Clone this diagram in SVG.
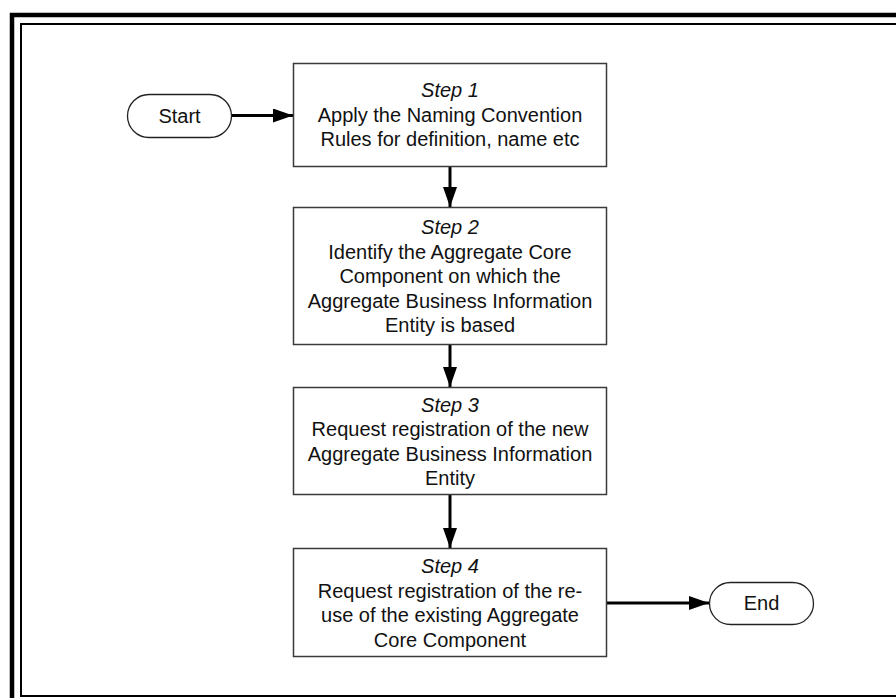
<svg xmlns="http://www.w3.org/2000/svg" width="896" height="698" viewBox="0 0 896 698">
  <style>
    .frame-outer { fill: none; stroke: #000; stroke-width: 4.5; }
    .frame-inner { fill: none; stroke: #000; stroke-width: 2; }
    .box { fill: #fff; stroke: #3a3a3a; stroke-width: 1.5; }
    .term { fill: #fff; stroke: #222; stroke-width: 1.3; }
    .label { font-family: "Liberation Sans", Arial, sans-serif; font-size: 20px; fill: #111; text-anchor: middle; }
    .step { font-style: italic; }
    .flow { fill: none; stroke: #000; stroke-width: 3; }
  </style>
  <defs>
    <marker id="arrow" markerUnits="userSpaceOnUse" markerWidth="22" markerHeight="16" refX="20" refY="7" orient="auto">
      <path d="M0,0 L20,7 L0,14 Z" fill="#000"/>
    </marker>
  </defs>

  <!-- page frame -->
  <rect class="frame-outer" x="12" y="15" width="900" height="700"/>
  <rect class="frame-inner" x="21" y="24" width="890" height="672"/>

  <!-- connectors -->
  <g id="connectors">
    <line class="flow" x1="231" y1="115.5" x2="293" y2="115.5" marker-end="url(#arrow)"/>
    <line class="flow" x1="450" y1="167" x2="450" y2="207" marker-end="url(#arrow)"/>
    <line class="flow" x1="450" y1="345" x2="450" y2="387" marker-end="url(#arrow)"/>
    <line class="flow" x1="450" y1="495" x2="450" y2="548" marker-end="url(#arrow)"/>
    <line class="flow" x1="607" y1="603" x2="709" y2="603" marker-end="url(#arrow)"/>
  </g>

  <g id="start">
    <rect class="term" x="127.5" y="94.5" width="104" height="43" rx="21.5"/>
    <text class="label" x="179.5" y="122.5">Start</text>
  </g>

  <g id="step1">
    <rect class="box" x="293.5" y="63.5" width="313" height="103"/>
    <text class="label step" x="450" y="97">Step 1</text>
    <text class="label" x="450" y="121.5">Apply the Naming Convention</text>
    <text class="label" x="450" y="146">Rules for definition, name etc</text>
  </g>

  <g id="step2">
    <rect class="box" x="293.5" y="207.5" width="313" height="137"/>
    <text class="label step" x="450" y="234">Step 2</text>
    <text class="label" x="450" y="258.5">Identify the Aggregate Core</text>
    <text class="label" x="450" y="283">Component on which the</text>
    <text class="label" x="450" y="307.5">Aggregate Business Information</text>
    <text class="label" x="450" y="332">Entity is based</text>
  </g>

  <g id="step3">
    <rect class="box" x="293.5" y="387.5" width="313" height="107"/>
    <text class="label step" x="450" y="411.5">Step 3</text>
    <text class="label" x="450" y="436">Request registration of the new</text>
    <text class="label" x="450" y="460.5">Aggregate Business Information</text>
    <text class="label" x="450" y="485">Entity</text>
  </g>

  <g id="step4">
    <rect class="box" x="293.5" y="548.5" width="313" height="108"/>
    <text class="label step" x="450" y="573">Step 4</text>
    <text class="label" x="450" y="597.5">Request registration of the re-</text>
    <text class="label" x="450" y="622">use of the existing Aggregate</text>
    <text class="label" x="450" y="646.5">Core Component</text>
  </g>

  <g id="end">
    <rect class="term" x="709.5" y="582.5" width="104" height="42" rx="21"/>
    <text class="label" x="761.5" y="610">End</text>
  </g>
</svg>
